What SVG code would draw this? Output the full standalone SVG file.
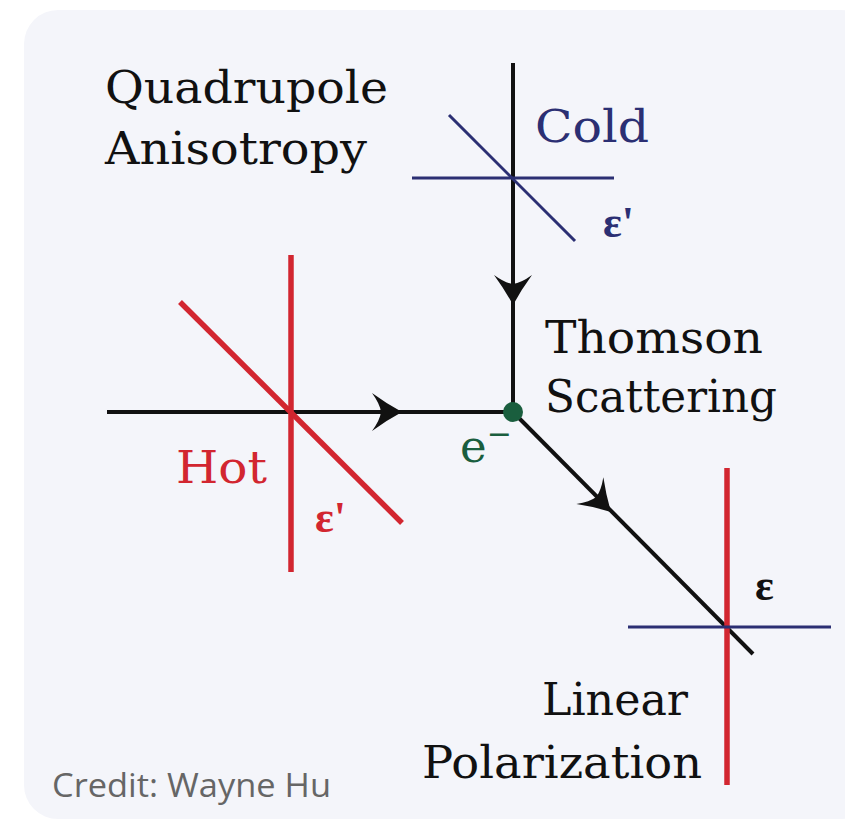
<svg xmlns="http://www.w3.org/2000/svg" width="845" height="820" viewBox="0 0 845 820">
<style>
.lbl{font-family:"DejaVu Serif","Liberation Serif",serif;font-size:45px;fill:#111}
.eps{font-family:"Liberation Serif","DejaVu Serif",serif;font-size:44px;font-weight:bold}
.blk{stroke:#111;stroke-width:4;fill:none}
.blu{stroke:#2b2f73;stroke-width:3;fill:none}
.red{stroke:#d22630;stroke-width:5.5;fill:none}
.ah{fill:#111}
</style>
<defs>
<path id="ah" d="M0,0 Q-15,-8 -30,-19 Q-22,-8 -21,0 Q-22,8 -30,19 Q-15,8 0,0 Z"/>
</defs>
<rect x="0" y="0" width="845" height="820" fill="#ffffff"/>
<rect x="24" y="10" width="850" height="809" rx="34" fill="#f4f5fa"/>

<g id="connectors">
<line class="blk" x1="513" y1="63" x2="513" y2="412"/>
<line class="blk" x1="107" y1="412" x2="513" y2="412"/>
<line class="blk" x1="513" y1="412" x2="753" y2="654"/>
<use href="#ah" class="ah" transform="translate(513,305) rotate(90)"/>
<use href="#ah" class="ah" transform="translate(402,412)"/>
<use href="#ah" class="ah" transform="translate(611,512) rotate(45.2)"/>
</g>

<g id="cold">
<line class="blu" x1="412" y1="178" x2="614" y2="178"/>
<line class="blu" x1="449" y1="115" x2="575" y2="241"/>
<text class="lbl" x="535" y="142" style="fill:#2b2f73" textLength="114" lengthAdjust="spacingAndGlyphs">Cold</text>
<text class="eps" x="603" y="237" fill="#2b2f73">ε'</text>
</g>

<g id="hot">
<line class="red" x1="291" y1="255" x2="291" y2="572"/>
<line class="red" x1="180" y1="302" x2="402" y2="523"/>
<text class="lbl" x="176" y="483" style="fill:#d22630" textLength="91" lengthAdjust="spacingAndGlyphs">Hot</text>
<text class="eps" x="315" y="532" fill="#d22630">ε'</text>
</g>

<g id="electron">
<circle cx="513" cy="412" r="10" fill="#1a5e3e"/>
<text class="lbl" x="460" y="462" style="fill:#1a5e3e">e<tspan dy="-18" style="font-size:30px">−</tspan></text>
</g>

<g id="quadrupole">
<text class="lbl" x="105" y="103" textLength="283" lengthAdjust="spacingAndGlyphs">Quadrupole</text>
<text class="lbl" x="105" y="164" textLength="262" lengthAdjust="spacingAndGlyphs">Anisotropy</text>
</g>

<g id="thomson">
<text class="lbl" x="545" y="353" textLength="218" lengthAdjust="spacingAndGlyphs">Thomson</text>
<text class="lbl" x="545" y="412" textLength="232" lengthAdjust="spacingAndGlyphs">Scattering</text>
</g>

<g id="linear">
<line class="red" x1="727" y1="468" x2="727" y2="785"/>
<line class="blu" x1="628" y1="627" x2="831" y2="627"/>
<text class="eps" x="755" y="600" fill="#111">ε</text>
<text class="lbl" x="542" y="715" textLength="146" lengthAdjust="spacingAndGlyphs">Linear</text>
<text class="lbl" x="422" y="778" textLength="280" lengthAdjust="spacingAndGlyphs">Polarization</text>
</g>

<text x="52" y="797" font-family="'Open Sans','Noto Sans',sans-serif" font-size="32" fill="#666666" textLength="279" lengthAdjust="spacingAndGlyphs">Credit: Wayne Hu</text>
</svg>
